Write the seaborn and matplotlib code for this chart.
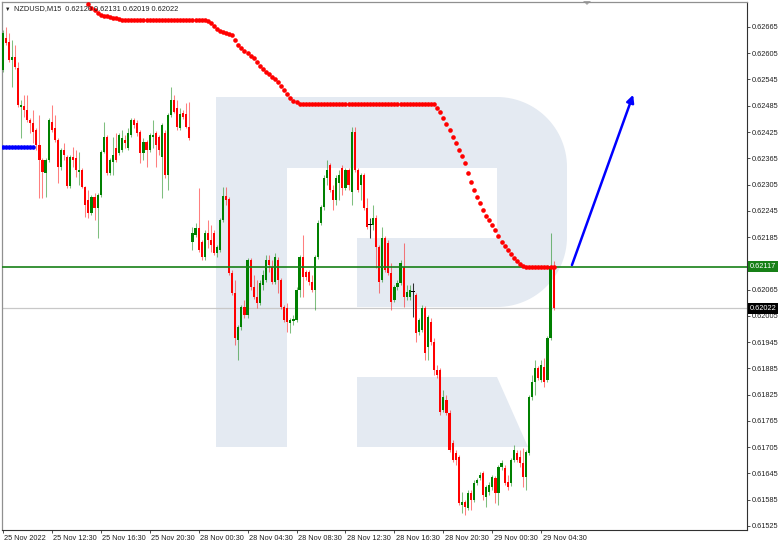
import numpy as np
import pandas as pd
import seaborn as sns
import matplotlib.pyplot as plt
from matplotlib.patches import Polygon
from matplotlib.transforms import blended_transform_factory, ScaledTranslation

# NZDUSD M15, bar 0 = 25 Nov 2022 08:30, prices in points (1 point = 0.00001)
opens = [
    62567, 62640, 62631, 62590, 62596, 62571, 62482, 62485, 62475, 62453,
    62446, 62430, 62395, 62361, 62331, 62361, 62448, 62434, 62407, 62345,
    62384, 62368, 62302, 62368, 62366, 62334, 62338, 62299, 62270, 62240,
    62277, 62251, 62281, 62379, 62414, 62331, 62357, 62389, 62377, 62384,
    62407, 62389, 62418, 62453, 62446, 62425, 62377, 62402, 62384, 62414,
    62423, 62414, 62368, 62423, 62327, 62464, 62498, 62480, 62434, 62469,
    62466, 62437, 62174, 62190, 62206, 62174, 62140, 62194, 62178, 62194,
    62149, 62156, 62224, 62279, 62272, 62103, 62057, 61950, 61980, 62025,
    62007, 62133, 62071, 62048, 62034, 62076, 62087, 62133, 62117, 62082,
    62133, 62087, 62025, 62023, 61989, 61993, 61996, 62064, 62140, 62105,
    62105, 62082, 62064, 62140, 62217, 62254, 62320, 62350, 62293, 62270,
    62309, 62343, 62297, 62338, 62288, 62425, 62338, 62304, 62327, 62251,
    62213, 62213, 62229, 62162, 62087, 62183, 62172, 62103, 62041, 62071,
    62080, 62117, 62048, 62048, 62060, 62053, 61968, 61973, 62023, 61934,
    61991, 61945, 61881, 61881, 61790, 61813, 61783, 61715, 61692, 61683,
    61573, 61580, 61566, 61600, 61584, 61623, 61635, 61646, 61591, 61603,
    61614, 61635, 61600, 61660, 61657, 61626, 61623, 61676, 61692, 61683,
    61669, 61637, 61692, 61820, 61854, 61886, 61858, 61888, 61858, 61954,
    62120,
]
highs = [
    62658, 62665, 62651, 62635, 62624, 62585, 62498, 62510, 62510, 62457,
    62475, 62434, 62464, 62366, 62366, 62457, 62487, 62464, 62411, 62389,
    62400, 62373, 62373, 62391, 62384, 62379, 62343, 62302, 62293, 62281,
    62286, 62286, 62384, 62448, 62418, 62366, 62414, 62423, 62423, 62430,
    62418, 62434, 62457, 62457, 62453, 62430, 62411, 62407, 62423, 62453,
    62427, 62418, 62446, 62430, 62469, 62528, 62510, 62498, 62480, 62475,
    62491, 62494, 62208, 62217, 62297, 62178, 62201, 62224, 62213, 62201,
    62167, 62229, 62299, 62299, 62277, 62110, 62087, 61984, 62030, 62041,
    62137, 62137, 62098, 62087, 62087, 62110, 62144, 62144, 62133, 62149,
    62140, 62092, 62030, 62034, 62000, 62007, 62071, 62144, 62190, 62110,
    62110, 62098, 62144, 62224, 62258, 62327, 62361, 62354, 62304, 62327,
    62338, 62350, 62343, 62343, 62437, 62437, 62343, 62331, 62331, 62274,
    62229, 62258, 62235, 62167, 62208, 62188, 62178, 62126, 62076, 62087,
    62133, 62172, 62076, 62076, 62080, 62057, 62000, 62030, 62028, 62007,
    62000, 61954, 61893, 61886, 61836, 61824, 61790, 61722, 61699, 61687,
    61603, 61584, 61607, 61607, 61630, 61635, 61648, 61651, 61619, 61626,
    61642, 61639, 61664, 61676, 61664, 61642, 61680, 61710, 61699, 61699,
    61703, 61699, 61824, 61870, 61904, 61890, 61904, 61909, 61959, 62194,
    62131,
]
lows = [
    62562, 62624, 62585, 62528, 62569, 62482, 62411, 62459, 62448, 62423,
    62400, 62384, 62274, 62274, 62277, 62357, 62425, 62402, 62309, 62338,
    62361, 62297, 62297, 62345, 62322, 62304, 62297, 62231, 62229, 62235,
    62224, 62183, 62277, 62377, 62327, 62327, 62327, 62357, 62373, 62379,
    62389, 62384, 62414, 62434, 62416, 62354, 62361, 62345, 62379, 62389,
    62345, 62373, 62274, 62320, 62293, 62459, 62469, 62430, 62430, 62455,
    62434, 62407, 62156, 62185, 62151, 62133, 62133, 62160, 62151, 62144,
    62140, 62151, 62220, 62258, 62098, 62053, 61938, 61904, 61973, 62000,
    62000, 62064, 62044, 62023, 62030, 62064, 62082, 62105, 62078, 62078,
    62057, 62021, 61991, 61968, 61966, 61984, 61991, 62048, 62048, 62087,
    62076, 62060, 62018, 62135, 62213, 62247, 62304, 62288, 62247, 62258,
    62270, 62281, 62293, 62293, 62258, 62334, 62288, 62270, 62247, 62204,
    62183, 62201, 62114, 62057, 62082, 62105, 62098, 62018, 62037, 62064,
    62076, 62025, 62041, 62041, 62002, 61945, 61961, 61968, 61904, 61904,
    61938, 61870, 61863, 61779, 61785, 61779, 61694, 61671, 61664, 61573,
    61555, 61550, 61562, 61562, 61580, 61619, 61630, 61584, 61568, 61596,
    61607, 61578, 61573, 61653, 61619, 61607, 61616, 61671, 61671, 61660,
    61614, 61607, 61687, 61813, 61824, 61858, 61854, 61843, 61854, 61950,
    62019,
]
closes = [
    62651, 62628, 62590, 62596, 62574, 62487, 62487, 62475, 62453, 62446,
    62425, 62395, 62361, 62334, 62361, 62453, 62430, 62407, 62345, 62384,
    62373, 62302, 62368, 62361, 62338, 62338, 62299, 62258, 62240, 62277,
    62251, 62281, 62379, 62414, 62331, 62361, 62373, 62361, 62418, 62411,
    62400, 62423, 62453, 62441, 62423, 62377, 62402, 62384, 62418, 62418,
    62395, 62384, 62441, 62327, 62464, 62498, 62471, 62437, 62466, 62459,
    62437, 62411, 62194, 62206, 62156, 62140, 62194, 62178, 62167, 62149,
    62162, 62224, 62279, 62270, 62103, 62057, 61954, 61980, 62025, 62007,
    62133, 62071, 62048, 62034, 62080, 62098, 62133, 62121, 62082, 62140,
    62087, 62025, 61996, 61991, 61996, 61998, 62064, 62140, 62094, 62094,
    62082, 62064, 62140, 62217, 62254, 62320, 62338, 62293, 62270, 62320,
    62327, 62297, 62338, 62304, 62425, 62338, 62293, 62327, 62251, 62208,
    62213, 62229, 62162, 62082, 62183, 62110, 62103, 62037, 62071, 62080,
    62126, 62048, 62060, 62064, 62060, 61966, 61996, 62023, 61920, 62002,
    61945, 61881, 61870, 61785, 61820, 61783, 61699, 61676, 61676, 61578,
    61580, 61568, 61600, 61584, 61623, 61630, 61642, 61596, 61614, 61619,
    61637, 61600, 61660, 61669, 61623, 61614, 61676, 61699, 61676, 61669,
    61637, 61694, 61820, 61854, 61886, 61863, 61893, 61854, 61954, 62120,
    62022,
]

# red trend dots, bars 28..180
trend_start = 28
trend = [
    62718, 62708, 62704, 62697, 62692, 62690, 62690, 62688, 62686, 62686,
    62683, 62681, 62680, 62680, 62680, 62680, 62680, 62680, 62680, 62680,
    62680, 62680, 62680, 62680, 62680, 62680, 62680, 62680, 62680, 62680,
    62680, 62680, 62680, 62680, 62680, 62680, 62680, 62680, 62680, 62679,
    62674, 62667, 62660, 62656, 62654, 62652, 62649, 62647, 62635, 62624,
    62617, 62610, 62606, 62599, 62594, 62585, 62576, 62569, 62562, 62558,
    62551, 62546, 62539, 62530, 62521, 62512, 62503, 62496, 62494, 62490,
    62490, 62490, 62490, 62490, 62490, 62490, 62490, 62490, 62490, 62490,
    62490, 62490, 62490, 62490, 62490, 62490, 62490, 62490, 62490, 62490,
    62490, 62490, 62490, 62490, 62490, 62490, 62490, 62490, 62490, 62490,
    62490, 62490, 62490, 62490, 62490, 62490, 62490, 62490, 62490, 62490,
    62490, 62490, 62490, 62489, 62480, 62471, 62457, 62443, 62430, 62414,
    62400, 62384, 62370, 62354, 62331, 62311, 62293, 62277, 62263, 62247,
    62233, 62224, 62213, 62201, 62188, 62174, 62165, 62156, 62146, 62137,
    62130, 62124, 62119, 62117, 62117, 62117, 62117, 62117, 62117, 62117,
    62117, 62117, 62117,
]
# blue level dots, bars 0..10
blue_level = [62391, 62391, 62391, 62391, 62391, 62391, 62391, 62391, 62391, 62391, 62391]

bid_price = 0.62117
last_price = 0.62022
arrow_from = (186, 0.62121)
arrow_to = (206, 0.62510)

yticks = [0.62665, 0.62605, 0.62545, 0.62485, 0.62425, 0.62365, 0.62305, 0.62245,
          0.62185, 0.62125, 0.62065, 0.62005, 0.61945, 0.61885, 0.61825, 0.61765,
          0.61705, 0.61645, 0.61585, 0.61525]
# 0.62125 sits under the bid box, so its label stays blank
ytick_labels = ['0.62665', '0.62605', '0.62545', '0.62485', '0.62425', '0.62365', '0.62305', '0.62245',
                '0.62185', '', '0.62065', '0.62005', '0.61945', '0.61885', '0.61825', '0.61765',
                '0.61705', '0.61645', '0.61585', '0.61525']
xtick_bars = [0, 16, 32, 48, 64, 80, 96, 112, 128, 144, 160, 176]
xtick_labels = ['25 Nov 2022', '25 Nov 12:30', '25 Nov 16:30', '25 Nov 20:30',
                '28 Nov 00:30', '28 Nov 04:30', '28 Nov 08:30', '28 Nov 12:30',
                '28 Nov 16:30', '28 Nov 20:30', '29 Nov 00:30', '29 Nov 04:30']

sns.set_style('white')
plt.rcParams['font.family'] = ['Liberation Sans', 'DejaVu Sans']
FS = 5.3

df = pd.DataFrame({'o': opens, 'h': highs, 'l': lows, 'c': closes}) / 1e5
df['bar'] = np.arange(len(df))

fig = plt.figure(figsize=(7.82, 5.46), dpi=100)

# watermark logo, drawn in pixel space behind the chart
bg = fig.add_axes([0, 0, 1, 1], zorder=0)
bg.set_xlim(0, 782)
bg.set_ylim(546, 0)
bg.axis('off')
logo = '#e4eaf2'
t1 = np.linspace(np.pi / 2, 0, 30)
t2 = np.linspace(0, -np.pi / 2, 30)
pts = [(216, 97)]
pts += list(zip(497 + 70 * np.cos(t1), 167 - 70 * np.sin(t1)))
pts += list(zip(497 + 70 * np.cos(t2), 237 - 70 * np.sin(t2)))
pts += [(357, 307), (357, 238), (497, 238), (497, 168), (287, 168), (287, 447), (216, 447)]
bg.add_patch(Polygon(pts, closed=True, color=logo, lw=0))
bg.add_patch(Polygon([(357, 377), (497, 377), (528, 447), (357, 447)], closed=True, color=logo, lw=0))
bg.add_patch(Polygon([(583, 1), (591, 1), (587, 5)], closed=True, color='#a8a8a8', lw=0))

ax = fig.add_axes([2 / 782, 16 / 546, 745 / 782, 528 / 546], zorder=1)
ax.set_facecolor('none')

up = df['c'] > df['o']
down = df['c'] < df['o']
flat = df['c'] == df['o']
green, red = '#008000', '#ff0000'

ax.vlines(df['bar'][up], df['l'][up], df['h'][up], color=green, lw=0.75, alpha=0.5, zorder=2)
ax.vlines(df['bar'][down], df['l'][down], df['h'][down], color=red, lw=0.75, alpha=0.5, zorder=2)
ax.vlines(df['bar'][flat], df['l'][flat], df['h'][flat], color='black', lw=0.75, alpha=0.8, zorder=2)

body = (df['c'] - df['o']).abs().clip(lower=0.00002)
base = df[['o', 'c']].min(axis=1)
ax.bar(df['bar'][up], body[up], bottom=base[up], width=0.7, color=green, lw=0, zorder=3)
ax.bar(df['bar'][down], body[down], bottom=base[down], width=0.7, color=red, lw=0, zorder=3)
ax.bar(df['bar'][flat], body[flat], bottom=base[flat], width=1.2, color='black', lw=0, zorder=3)

ax.axhline(last_price, color='#c8c8c8', lw=0.9, zorder=1)
ax.axhline(bid_price, color='#178017', lw=1.2, zorder=4)

tdf = pd.DataFrame({'bar': np.arange(trend_start, trend_start + len(trend)), 'v': np.array(trend) / 1e5})
sns.scatterplot(data=tdf, x='bar', y='v', ax=ax, color='#ff0000', s=11, linewidth=0, zorder=5, legend=False)
bdf = pd.DataFrame({'bar': np.arange(len(blue_level)), 'v': np.array(blue_level) / 1e5})
sns.scatterplot(data=bdf, x='bar', y='v', ax=ax, color='#0000ff', s=11, linewidth=0, zorder=5, legend=False)

ax.annotate('', xy=arrow_to, xytext=arrow_from,
            arrowprops=dict(arrowstyle='-|>', color='#0000ff', lw=1.8, mutation_scale=11,
                            shrinkA=0, shrinkB=0), zorder=6)

ax.set_xlim(-0.23, 243.2)
ax.set_ylim(0.615158, 0.62722)
ax.set_xlabel('')
ax.set_ylabel('')

ax.yaxis.tick_right()
ax.set_yticks(yticks)
ax.set_yticklabels(ytick_labels)
ax.set_xticks(xtick_bars)
ax.set_xticklabels(xtick_labels)
ax.tick_params(axis='both', direction='out', length=2.2, width=0.6, color='#303030',
               labelsize=FS, labelcolor='#202020', pad=1.5)
ax.tick_params(axis='y', left=False, right=True)
ax.tick_params(axis='x', bottom=True)
offset = ScaledTranslation(1.5 / 100, 0, fig.dpi_scale_trans)
for lab in ax.get_xticklabels():
    lab.set_horizontalalignment('left')
    lab.set_transform(lab.get_transform() + offset)

for side in ['left', 'top']:
    ax.spines[side].set_color('#909090')
    ax.spines[side].set_linewidth(0.9)
for side in ['right', 'bottom']:
    ax.spines[side].set_color('#303030')
    ax.spines[side].set_linewidth(0.8)

trans = blended_transform_factory(ax.transAxes, ax.transData)
ax.text(1.0 + 2.5 / 745, bid_price, f'{bid_price:.5f}', transform=trans, ha='left', va='center',
        fontsize=FS, color='white', zorder=10,
        bbox=dict(boxstyle='square,pad=0.25', fc='#178017', ec='none'))
ax.text(1.0 + 2.5 / 745, last_price, f'{last_price:.5f}', transform=trans, ha='left', va='center',
        fontsize=FS, color='white', zorder=10,
        bbox=dict(boxstyle='square,pad=0.25', fc='black', ec='none'))

fig.text(5 / 782, 1 - 9 / 546, '\u25bc', fontsize=4, color='#202020', va='center', ha='left')
fig.text(14 / 782, 1 - 9 / 546, 'NZDUSD,M15  0.62120 0.62131 0.62019 0.62022',
         fontsize=FS, color='#202020', va='center', ha='left')

fig.savefig('out.png', dpi=100, facecolor='white')
